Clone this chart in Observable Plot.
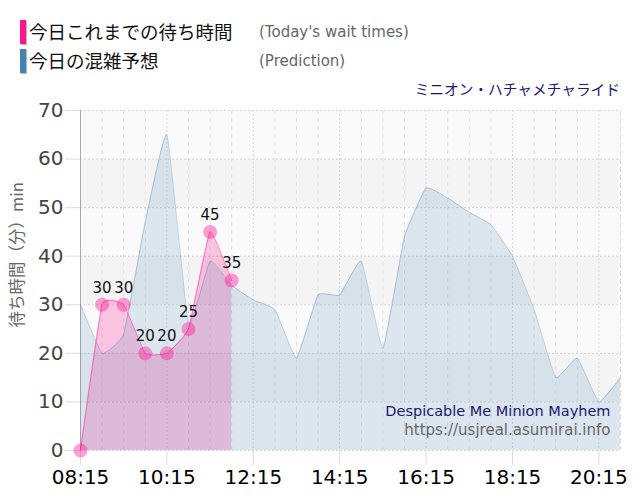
<!DOCTYPE html>
<html><head><meta charset="utf-8">
<script src="https://cdn.jsdelivr.net/npm/d3@7"></script>
<script src="https://cdn.jsdelivr.net/npm/@observablehq/plot@0.6"></script>
<style>
html,body{margin:0;padding:0;background:#fff;overflow:hidden}
#wrap{position:relative;width:640px;height:500px}
#head{position:relative;height:100px;width:640px}
#head div{position:absolute;white-space:nowrap}
.jp{font:18.5px "Noto Sans CJK JP",sans-serif;color:#111;left:29px;line-height:24px}
.en{font:15px "DejaVu Sans",sans-serif;color:#666;left:259px;line-height:24px}
.sw{left:20px;width:6px;height:24px;box-shadow:1px 1px 1px #bbb}
svg{display:block;overflow:visible}
</style></head><body>
<div id="wrap">
<div id="head">
<div class="sw" style="top:20px;background:#ff1493"></div>
<div class="jp" style="top:19px">今日これまでの待ち時間</div>
<div class="en" style="top:20px">(Today's wait times)</div>
<div class="sw" style="top:49px;background:#4682b4"></div>
<div class="jp" style="top:48px">今日の混雑予想</div>
<div class="en" style="top:49px">(Prediction)</div>
<div style="right:20px;top:80px;font:14.7px 'DejaVu Sans','Noto Sans CJK JP',sans-serif;color:#191970;line-height:20px">ミニオン・ハチャメチャライド</div>
</div>
<div id="chart"></div>
</div>
<script>
const predictionTimes = ["08:15","08:45","09:15","09:45","10:15","10:45","11:15","11:45","12:15","12:45","13:15","13:45","14:15","14:45","15:15","15:45","16:15","16:45","17:15","17:45","18:15","18:45","19:15","19:45","20:15","20:45"];
const predictionValues = [30,20,24,47,65,26,39,34,31,29,19,32,32,39,21,44,54,52,49,46.5,40,29,15,19,10,15];
const waitTimes = ["08:15","08:45","09:15","09:45","10:15","10:45","11:15","11:45"];
const waitValues = [0,30,30,20,20,25,45,35];
const labeledWaitTimes = waitTimes.slice(1);
const majorTicks = ["08:15","10:15","12:15","14:15","16:15","18:15","20:15"];
const yTicks = [0,10,20,30,40,50,60,70];
const bands = [[0,10,"#fafafa"],[10,20,"#f4f4f4"],[20,30,"#fafafa"],[30,40,"#f4f4f4"],[40,50,"#fafafa"],[50,60,"#f4f4f4"],[60,70,"#fafafa"]];

const mins = s => { const [h,m] = s.split(":").map(Number); return h*60+m; };
const pred = predictionTimes.map((t,i)=>({x:mins(t),y:predictionValues[i]}));
const wait = waitTimes.map((t,i)=>({x:mins(t),y:waitValues[i],t}));
const minorX = predictionTimes.filter(t=>!majorTicks.includes(t)).map(mins);
const majorX = majorTicks.map(mins);
const label = new Map(majorTicks.map(t=>[mins(t),t]));
const curve = "cardinal", tension = 0.65;

const chart = Plot.plot({
  width:640,height:400,marginTop:10,marginBottom:50,marginLeft:80,marginRight:20,
  style:{background:"transparent",overflow:"visible"},
  x:{domain:[mins("08:15"),mins("20:45")],range:[80,620],axis:null},
  y:{domain:[0,70],axis:null},
  marks:[
    Plot.rectY(bands,{x1:mins("08:15"),x2:mins("20:45"),y1:d=>d[0],y2:d=>d[1],fill:d=>d[2]}),
    Plot.ruleX(minorX,{stroke:"#e0e0e0",strokeDasharray:"4,4"}),
    Plot.ruleX(majorX,{stroke:"#d8d8d8",strokeDasharray:"2,2"}),
    Plot.ruleY(yTicks,{stroke:"#d4d4d4",strokeDasharray:"2,2"}),
    Plot.ruleX([mins("20:45")],{stroke:"#e0e0e0",strokeDasharray:"2,2"}),
    Plot.ruleX([mins("08:15")],{stroke:"#aaa"}),
    Plot.axisY({ticks:yTicks,tickSize:15,tickPadding:2,fontSize:20,color:"#444",stroke:"#ddd",fontFamily:"DejaVu Sans",anchor:"left",label:null,textStroke:"none"}),
    Plot.axisX({ticks:majorX,tickSize:15,tickPadding:4,fontSize:20,fontFamily:"DejaVu Sans",anchor:"bottom",label:null,tickFormat:d=>label.get(d),color:"#000",stroke:"#ddd"}),
    Plot.text(["待ち時間（分）min"],{frameAnchor:"left",rotate:-90,dx:-63,dy:47,fontSize:16.5,fill:"#666",fontFamily:"Noto Sans CJK JP"}),
    Plot.areaY(wait,{x:"x",y:"y",curve,tension,fill:"#ff1493",fillOpacity:0.23}),
    Plot.areaY(pred,{x:"x",y:"y",curve,tension,fill:"#4682b4",fillOpacity:0.16}),
    Plot.lineY(pred,{x:"x",y:"y",curve,tension,stroke:"#4682b4",strokeOpacity:0.35,strokeWidth:1}),
    Plot.lineY(wait,{x:"x",y:"y",curve,tension,stroke:"#ff1493",strokeOpacity:0.5,strokeWidth:1}),
    Plot.dot(wait,{x:"x",y:"y",r:7,fill:"#ff1493",fillOpacity:0.4,stroke:null}),
    Plot.text(wait.filter(d=>labeledWaitTimes.includes(d.t)),{x:"x",y:"y",text:d=>String(d.y),dy:-17,fontSize:15,fill:"#111",fontFamily:"DejaVu Sans"}),
    Plot.text(["Despicable Me Minion Mayhem"],{frameAnchor:"bottom-right",dx:-10,dy:-35,fontSize:14.5,fill:"#191970",fontFamily:"DejaVu Sans"}),
    Plot.text(["https://usjreal.asumirai.info"],{frameAnchor:"bottom-right",dx:-10,dy:-16,fontSize:15,fill:"#666",fontFamily:"DejaVu Sans"})
  ]
});
document.getElementById("chart").appendChild(chart);
</script>
</body></html>
